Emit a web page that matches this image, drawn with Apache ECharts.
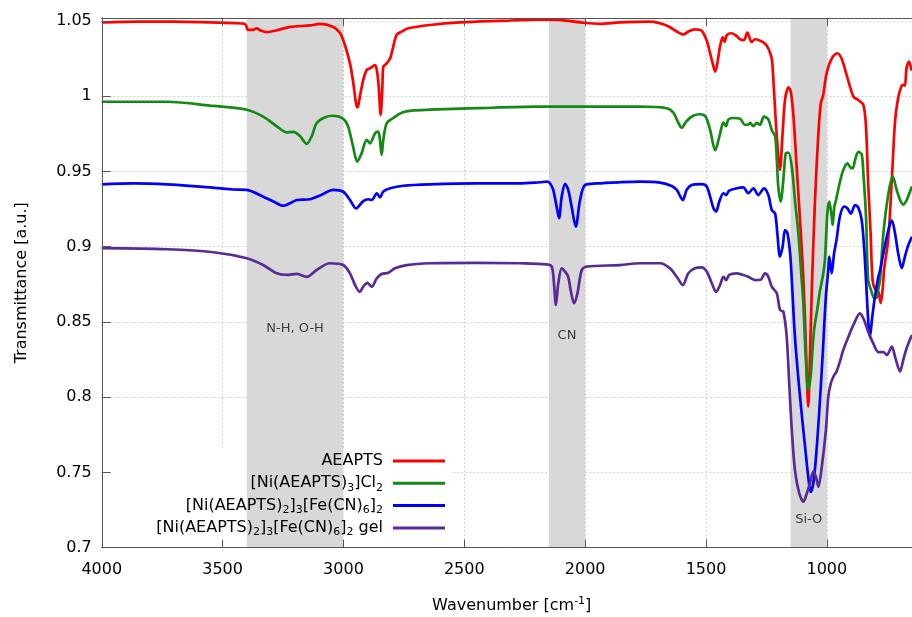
<!DOCTYPE html>
<html><head><meta charset="utf-8">
<script src="https://cdn.jsdelivr.net/npm/echarts/dist/echarts.min.js"></script>
<style>html,body{margin:0;padding:0;background:#fff}#c{width:912px;height:617px}</style>
</head><body><div id="c"></div>
<script>
// ---- data: [wavenumber (cm^-1), transmittance (a.u.)] ----
const seriesNames = ['AEAPTS', '[Ni(AEAPTS)3]Cl2', '[Ni(AEAPTS)2]3[Fe(CN)6]2', '[Ni(AEAPTS)2]3[Fe(CN)6]2 gel'];
const seriesRichNames = ['AEAPTS', '[Ni(AEAPTS){s|3}]Cl{s|2}', '[Ni(AEAPTS){s|2}]{s|3}[Fe(CN){s|6}]{s|2}', '[Ni(AEAPTS){s|2}]{s|3}[Fe(CN){s|6}]{s|2} gel'];
const seriesColors = ['#ff0000', '#138a13', '#0000ff', '#5a2a96'];

const redPoints = [[4000,1.049],[3850,1.0495],[3700,1.0495],[3550,1.049],[3450,1.0485],[3407,1.048],[3395,1.044],[3378,1.044],[3358,1.045],[3345,1.0438],[3316,1.0426],[3275,1.0438],[3221,1.046],[3138,1.047],[3097,1.048],[3042,1.046],[3014,1.042],[2994,1.034],[2973,1.0218],[2959,1.0086],[2948,0.9953],[2941,0.9926],[2932,0.9997],[2918,1.0108],[2904,1.0174],[2890,1.0185],[2869,1.0207],[2862,1.0174],[2854,1.0063],[2846,0.9875],[2839,1.006],[2835,1.0196],[2821,1.0218],[2807,1.025],[2794,1.0329],[2780,1.0407],[2759,1.0429],[2732,1.0451],[2642,1.0473],[2518,1.049],[2352,1.050],[2187,1.0508],[2100,1.0505],[2020,1.049],[1939,1.048],[1856,1.049],[1732,1.0495],[1663,1.047],[1621,1.043],[1594,1.041],[1573,1.043],[1546,1.0444],[1518,1.0435],[1497,1.037],[1483,1.0285],[1469,1.0196],[1462,1.0163],[1453,1.0218],[1442,1.033],[1431,1.039],[1423,1.036],[1414,1.0406],[1394,1.0418],[1373,1.040],[1359,1.0378],[1343,1.0373],[1329,1.0422],[1311,1.036],[1297,1.0378],[1277,1.0369],[1256,1.035],[1242,1.0317],[1228,1.025],[1222,1.0129],[1214,0.9907],[1205,0.9687],[1194,0.951],[1183,0.9754],[1173,0.9975],[1159,1.0059],[1149,1.003],[1138,0.9864],[1125,0.9532],[1111,0.9178],[1099,0.885],[1090,0.85],[1083,0.815],[1077,0.7937],[1071,0.82],[1065,0.855],[1061,0.878],[1049,0.931],[1035,0.9754],[1025,0.9953],[1015,1.0008],[1001,1.0152],[980,1.025],[957,1.0285],[939,1.025],[918,1.014],[890,0.9997],[870,0.9975],[849,0.9942],[838,0.9797],[829,0.9421],[819,0.9089],[811,0.878],[801,0.872],[787,0.870],[777,0.8625],[769,0.872],[763,0.885],[746,0.905],[731,0.945],[718,0.983],[706,0.998],[693,1.006],[683,1.0075],[677,1.007],[670,1.019],[660,1.023],[650,1.017]];

const greenPoints = [[4000,0.9963],[3731,0.9963],[3538,0.9935],[3400,0.991],[3332,0.9864],[3276,0.980],[3235,0.976],[3207,0.9763],[3180,0.9735],[3152,0.9683],[3131,0.9735],[3111,0.982],[3076,0.986],[3042,0.987],[3001,0.985],[2981,0.980],[2960,0.9664],[2943,0.9565],[2925,0.962],[2904,0.971],[2890,0.9687],[2869,0.9754],[2856,0.9764],[2849,0.971],[2842,0.961],[2835,0.971],[2821,0.982],[2794,0.9855],[2759,0.989],[2711,0.9905],[2642,0.991],[2450,0.992],[2200,0.993],[1939,0.993],[1773,0.993],[1663,0.992],[1635,0.989],[1615,0.9825],[1601,0.979],[1580,0.9835],[1553,0.987],[1525,0.988],[1502,0.9865],[1483,0.9776],[1462,0.964],[1442,0.975],[1428,0.9825],[1417,0.980],[1408,0.9844],[1387,0.9855],[1359,0.985],[1339,0.981],[1325,0.981],[1318,0.9823],[1304,0.980],[1290,0.9823],[1277,0.981],[1260,0.9864],[1242,0.9846],[1228,0.9775],[1214,0.9733],[1207,0.9576],[1201,0.940],[1191,0.930],[1180,0.9443],[1170,0.962],[1159,0.9625],[1145,0.953],[1132,0.931],[1118,0.909],[1104,0.878],[1097,0.862],[1088,0.829],[1077,0.8047],[1070,0.81],[1065,0.818],[1053,0.8445],[1040,0.858],[1028,0.871],[1017,0.880],[1008,0.891],[998,0.922],[990,0.930],[980,0.920],[976,0.9144],[969,0.9266],[962,0.931],[946,0.943],[932,0.951],[915,0.9554],[904,0.953],[893,0.952],[883,0.9577],[870,0.963],[856,0.9615],[849,0.949],[838,0.920],[829,0.878],[815,0.87],[805,0.866],[795,0.866],[787,0.872],[780,0.878],[766,0.909],[745,0.9355],[727,0.9465],[711,0.9376],[697,0.931],[684,0.928],[670,0.931],[656,0.9365],[648,0.940]];

const bluePoints = [[4000,0.9414],[3871,0.942],[3731,0.9414],[3594,0.9399],[3457,0.938],[3400,0.9377],[3332,0.9332],[3290,0.930],[3249,0.9272],[3221,0.9288],[3193,0.931],[3138,0.9315],[3097,0.934],[3042,0.9377],[3001,0.9365],[2973,0.931],[2948,0.9255],[2918,0.9303],[2897,0.9315],[2883,0.931],[2862,0.9355],[2849,0.9328],[2835,0.9366],[2807,0.9388],[2752,0.9405],[2642,0.9414],[2450,0.942],[2270,0.942],[2187,0.9428],[2159,0.9432],[2145,0.942],[2132,0.9377],[2118,0.9266],[2108,0.919],[2097,0.9332],[2083,0.9417],[2070,0.9377],[2056,0.9266],[2039,0.9133],[2021,0.931],[2000,0.941],[1952,0.942],[1856,0.9428],[1773,0.9432],[1690,0.9425],[1642,0.9403],[1621,0.9377],[1607,0.9336],[1596,0.931],[1580,0.9377],[1559,0.941],[1518,0.9415],[1497,0.940],[1483,0.9332],[1469,0.9255],[1458,0.9233],[1445,0.930],[1428,0.9355],[1417,0.9343],[1404,0.9372],[1373,0.9388],[1346,0.9394],[1325,0.9355],[1304,0.9388],[1284,0.9343],[1260,0.9388],[1242,0.9343],[1228,0.9244],[1214,0.922],[1205,0.909],[1194,0.8934],[1183,0.900],[1173,0.911],[1163,0.909],[1152,0.8956],[1145,0.878],[1132,0.840],[1111,0.8003],[1090,0.767],[1077,0.747],[1067,0.737],[1056,0.7428],[1045,0.760],[1031,0.7915],[1017,0.829],[1004,0.8668],[994,0.8845],[990,0.8934],[980,0.8823],[970,0.8956],[960,0.9045],[946,0.920],[929,0.9266],[915,0.9255],[901,0.922],[883,0.9277],[870,0.926],[856,0.9178],[846,0.900],[838,0.878],[829,0.8512],[822,0.840],[812,0.8535],[801,0.8668],[787,0.880],[780,0.884],[766,0.8956],[752,0.9066],[738,0.9155],[731,0.9173],[718,0.909],[705,0.8956],[690,0.8857],[677,0.8934],[663,0.901],[648,0.9066]];

const purplePoints = [[4000,0.899],[3731,0.8983],[3538,0.8963],[3400,0.8923],[3332,0.8878],[3276,0.8823],[3235,0.8812],[3193,0.8819],[3152,0.880],[3111,0.8845],[3056,0.889],[3001,0.8878],[2973,0.8823],[2952,0.8745],[2932,0.870],[2918,0.8735],[2901,0.876],[2883,0.8734],[2862,0.879],[2842,0.8819],[2814,0.8827],[2787,0.8856],[2738,0.8878],[2642,0.889],[2450,0.8893],[2270,0.889],[2159,0.8883],[2138,0.8867],[2129,0.8757],[2121,0.8613],[2111,0.8757],[2097,0.8856],[2083,0.8834],[2070,0.880],[2060,0.8712],[2046,0.8624],[2032,0.869],[2014,0.8845],[1994,0.8867],[1856,0.8878],[1773,0.889],[1690,0.889],[1649,0.8856],[1621,0.880],[1596,0.8745],[1573,0.8823],[1546,0.8856],[1518,0.8863],[1497,0.8835],[1476,0.8757],[1458,0.870],[1442,0.8745],[1428,0.880],[1417,0.8778],[1404,0.8812],[1373,0.8823],[1346,0.8812],[1325,0.880],[1297,0.8778],[1274,0.878],[1256,0.8823],[1242,0.880],[1228,0.8734],[1207,0.869],[1194,0.858],[1180,0.8568],[1166,0.840],[1155,0.807],[1145,0.778],[1132,0.7516],[1114,0.736],[1097,0.7306],[1083,0.736],[1070,0.7428],[1056,0.7505],[1045,0.747],[1035,0.7405],[1021,0.7538],[1004,0.778],[994,0.8003],[984,0.809],[973,0.8136],[960,0.817],[946,0.8236],[932,0.8314],[911,0.840],[890,0.848],[863,0.8557],[846,0.8513],[829,0.8435],[808,0.8358],[787,0.830],[766,0.830],[752,0.828],[731,0.8336],[718,0.827],[697,0.817],[684,0.8247],[670,0.8325],[648,0.8413]];

// highlighted bands [from, to] and their labels
const bandRanges = [[3400, 3000], [2150, 2000], [1150, 1000]];
const bandLabels = ['N-H, O-H', 'CN', 'Si-O'];
const bandLabelWn = [3200, 2075, 1075];
const bandLabelT = [0.8455, 0.841, 0.7185];

// axis ticks
const xTickMin = 500, xTickMax = 4000, xTickStep = 500;
const yTickMin = 0.7, yTickMax = 1.052, yTickStep = 0.05;

const FONT = 'DejaVu Sans';
const chart = echarts.init(document.getElementById('c'), null, {renderer: 'canvas'});

const allPoints = [redPoints, greenPoints, bluePoints, purplePoints];
const richMap = {};
seriesNames.forEach((n, i) => richMap[n] = seriesRichNames[i]);

function yFmt(v) {
  const k = v / yTickStep;
  if (Math.abs(k - Math.round(k)) > 1e-6) return '';
  return String(+v.toFixed(2));
}
function xFmt(v) { return String(Math.round(v)); }

const gridLineStyle = {color: '#c2c2c2', type: [1.5, 2.5], width: 1};

const lineSeries = seriesNames.map((name, i) => ({
  name: name, type: 'line', data: allPoints[i], xAxisIndex: 0, yAxisIndex: 0,
  showSymbol: false, symbol: 'none', smooth: 0.3, z: 3,
  lineStyle: {color: seriesColors[i], width: 2.7}, itemStyle: {color: seriesColors[i]},
  emphasis: {disabled: true}
}));

const option = {
  animation: false,
  backgroundColor: '#fff',
  grid: {left: 101.75, top: 17.9, bottom: 69.3, right: -35.7, containLabel: false, outerBoundsMode: 'none'},
  legend: {
    data: seriesNames, orient: 'vertical', align: 'right', right: 467, top: 451,
    padding: 0, itemGap: 2.3, itemWidth: 52, itemHeight: 3, icon: 'rect', selectedMode: false,
    formatter: n => richMap[n],
    textStyle: {fontFamily: FONT, fontSize: 16, color: '#000', lineHeight: 20, padding: [0, 5, 0, 0],
      rich: {s: {fontFamily: FONT, fontSize: 11, color: '#000', lineHeight: 9, verticalAlign: 'bottom'}}}
  },
  graphic: [{type: 'rect', z: 0.5, silent: true, shape: {x: 102, y: 448, width: 350, height: 92}, style: {fill: '#fff'}}],
  xAxis: [
    {type: 'value', inverse: true, min: xTickMin, max: xTickMax, interval: xTickStep, z: 0,
     axisLine: {show: false}, axisTick: {show: false}, axisLabel: {show: false},
     splitLine: {show: true, lineStyle: gridLineStyle}},
    {type: 'value', inverse: true, min: xTickMin, max: xTickMax, interval: xTickStep, position: 'bottom', z: 10,
     axisLine: {show: true, onZero: false, lineStyle: {color: '#555', width: 1}},
     axisTick: {show: true, inside: true, length: 8, lineStyle: {color: '#555'}},
     axisLabel: {show: true, margin: 14, fontFamily: FONT, fontSize: 16, color: '#000', formatter: xFmt},
     splitLine: {show: false},
     name: 'Wavenumber [cm{sup|-1}]', nameLocation: 'middle', nameGap: 48,
     nameTextStyle: {fontFamily: FONT, fontSize: 16, color: '#000', lineHeight: 20, padding: [0, 26, 0, 0],
       rich: {sup: {fontFamily: FONT, fontSize: 11, color: '#000', lineHeight: 10, verticalAlign: 'top'}}}},
    {type: 'value', inverse: true, min: xTickMin, max: xTickMax, interval: xTickStep, position: 'top', z: 10,
     axisLine: {show: true, onZero: false, lineStyle: {color: '#555', width: 1}},
     axisTick: {show: true, inside: true, length: 8, lineStyle: {color: '#555'}},
     axisLabel: {show: false}, splitLine: {show: false}}
  ],
  yAxis: [
    {type: 'value', min: yTickMin, max: yTickMax, interval: yTickStep, z: 0,
     axisLine: {show: false}, axisTick: {show: false}, axisLabel: {show: false},
     splitLine: {show: true, lineStyle: gridLineStyle}},
    {type: 'value', min: yTickMin, max: yTickMax, interval: yTickStep, position: 'left', z: 10,
     axisLine: {show: true, onZero: false, lineStyle: {color: '#555', width: 1}},
     axisTick: {show: true, inside: true, length: 9, lineStyle: {color: '#555'}},
     axisLabel: {show: true, margin: 10, fontFamily: FONT, fontSize: 16, color: '#000', formatter: yFmt},
     splitLine: {show: false},
     name: 'Transmittance [a.u.]', nameLocation: 'middle', nameGap: 72, nameRotate: 90,
     nameTextStyle: {fontFamily: FONT, fontSize: 16, color: '#000'}}
  ],
  series: [
    {name: 'bands', type: 'line', data: [], xAxisIndex: 0, yAxisIndex: 0, silent: true,
     markArea: {silent: true, z: 1, itemStyle: {color: '#d8d8d8'}, label: {show: false},
       data: bandRanges.map(r => [{xAxis: r[0]}, {xAxis: r[1]}])}},
    ...lineSeries,
    {name: 'annotations', type: 'scatter', xAxisIndex: 0, yAxisIndex: 0, symbolSize: 0, silent: true, z: 4,
     data: bandLabels.map((t, i) => ({value: [bandLabelWn[i], bandLabelT[i]], name: t})),
     itemStyle: {color: 'transparent'},
     label: {show: true, position: 'inside', formatter: p => p.name, fontFamily: FONT, fontSize: 13, color: '#111'}}
  ]
};
chart.setOption(option);
</script>
</body></html>
